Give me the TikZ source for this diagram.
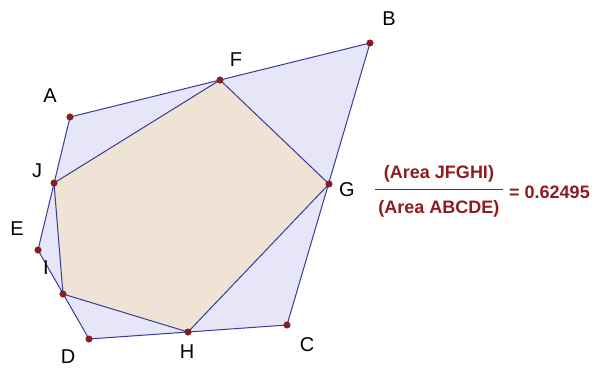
\documentclass[tikz,border=0pt]{standalone}
\usepackage{fontspec}
\setmainfont{Liberation Sans}
\usetikzlibrary{positioning}
\definecolor{edge}{HTML}{3A3A98}
\definecolor{outer}{HTML}{E6E6F8}
\definecolor{inner}{HTML}{EFE3D6}
\definecolor{pt}{HTML}{8E1C1C}
\tikzset{
  dot/.style={circle,fill=pt,draw=pt!70!black,line width=0.4pt,inner sep=0pt,minimum size=6.5pt},
  lbl/.style={font=\fontsize{20}{23}\selectfont,inner sep=0pt},
  ratio/.style={text=pt,font=\bfseries\fontsize{18}{21}\selectfont,inner sep=1pt},
}
\begin{document}
\begin{tikzpicture}[x=1pt,y=-1pt]
  \useasboundingbox (0,0) rectangle (596,368);
  % outer pentagon
  \coordinate (A) at (70,117);
  \coordinate (B) at (370,43);
  \coordinate (C) at (287,325);
  \coordinate (D) at (89,339);
  \coordinate (E) at (38,250);
  % inner pentagon
  \coordinate (F) at (220,80);
  \coordinate (G) at (329,184);
  \coordinate (H) at (188,332);
  \coordinate (I) at (63,294);
  \coordinate (J) at (54,183);
  \draw[edge,fill=outer,line width=1pt] (A) -- (B) -- (C) -- (D) -- (E) -- cycle;
  \draw[edge,fill=inner,line width=1pt] (J) -- (F) -- (G) -- (H) -- (I) -- cycle;
  \foreach \p in {A,B,C,D,E,F,G,H,I,J}{\node[dot] at (\p) {};}
  % labels
  \node[lbl] (lA) at (50,96) {A};
  \node[lbl] (lB) at (389,19) {B};
  \node[lbl] (lC) at (307,345) {C};
  \node[lbl] (lD) at (68,357) {D};
  \node[lbl] (lE) at (17,229) {E};
  \node[lbl] (lF) at (236,60) {F};
  \node[lbl] (lG) at (347,190) {G};
  \node[lbl] (lH) at (187,352) {H};
  \node[lbl] (lI) at (46,268) {I};
  \node[lbl] (lJ) at (37,171) {J};
  % area ratio
  \node[ratio] (num) at (439,174) {(Area JFGHI)};
  \node[ratio] (den) at (439,209) {(Area ABCDE)};
  \draw[pt,line width=1pt] (375,189) -- (503,189);
  \node[ratio,anchor=west] (val) at (508,192) {= 0.62495};
\end{tikzpicture}
\end{document}
